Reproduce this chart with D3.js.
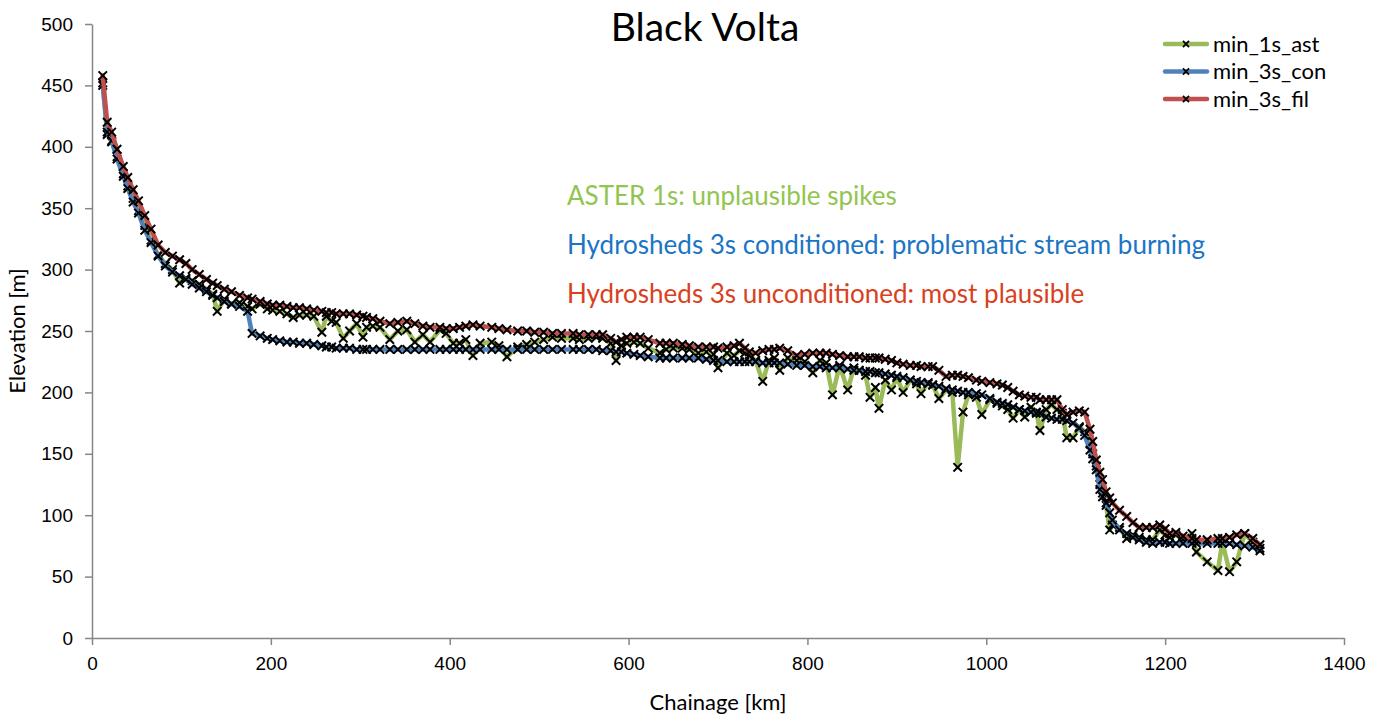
<!DOCTYPE html>
<html>
<head>
<meta charset="utf-8">
<title>Black Volta</title>
<style>
body { margin: 0; background: #fff; }
.axis path, .axis line { stroke: #868686; stroke-width: 1.5; }
.axis text { font-family: "Liberation Sans", Arial, sans-serif; font-size: 19px; fill: #000; }
.lbl { font-family: Lato, "Open Sans", sans-serif; }
</style>
</head>
<body>
<div id="container"></div>
<script src="https://d3js.org/d3.v7.min.js"></script>
<script>
// Chainage (km) shared by the three profiles
const chainage = [12, 17, 22, 28, 35, 40, 46, 52, 59, 66, 74, 82, 90, 98, 105, 112, 120, 128, 135, 140,
  148, 156, 165, 174, 179, 188, 196, 202, 210, 218, 225, 232, 240, 248, 257, 262, 268, 273, 281, 288,
  296, 303, 307, 314, 322, 333, 342, 352, 361, 370, 378, 389, 396, 404, 411, 418, 426, 434, 447, 455,
  464, 476, 486, 495, 505, 515, 525, 538, 545, 555, 564, 571, 580, 586, 592, 598, 606, 613, 622, 635,
  642, 650, 660, 668, 678, 687, 695, 700, 710, 718, 724, 730, 735, 742, 750, 757, 763, 769, 778, 788,
  797, 806, 814, 821, 828, 836, 845, 852, 858, 865, 870, 876, 880, 887, 894, 900, 907, 915, 922, 927,
  935, 940, 947, 955, 962, 968, 974, 980, 989, 995, 1004, 1012, 1018, 1024, 1030, 1037, 1043, 1050, 1056, 1060,
  1067, 1073, 1079, 1085, 1090, 1097, 1104, 1110, 1116, 1119, 1123, 1127, 1130, 1134, 1138, 1141, 1149, 1157, 1164, 1171,
  1179, 1186, 1194, 1200, 1205, 1212, 1220, 1230, 1235, 1247, 1259, 1264, 1272, 1280, 1289, 1298, 1306];

// ASTER 1s
const min_1s_ast = [452, 410, 404, 392, 378, 368, 358, 348, 336, 324, 312, 305, 300, 289, 293, 291, 288, 284, 280, 266,
  276, 272, 273, 270, 268, 272, 268, 267, 266, 264, 261, 263, 263, 262, 249, 262, 258, 257, 244, 250,
  256, 245, 253, 254, 253, 243, 250, 251, 241, 247, 241, 251, 248, 240, 240, 243, 230, 240, 241, 238,
  229, 237, 239, 241, 243, 245, 244, 244, 243, 244, 245, 244, 240, 226, 238, 240, 241, 240, 236, 232,
  235, 236, 236, 235, 232, 233, 231, 220, 232, 230, 234, 232, 230, 226, 209, 226, 228, 218, 228, 226,
  225, 216, 226, 224, 198, 222, 202, 220, 218, 214, 196, 204, 187, 210, 202, 212, 200, 210, 207, 199,
  208, 206, 195, 202, 200, 139, 184, 198, 196, 182, 194, 191, 189, 186, 179, 186, 180, 188, 184, 169,
  186, 190, 186, 183, 163, 163, 172, 168, 158, 150, 140, 125, 118, 108, 88, 92, 90, 81, 84, 82,
  80, 80, 88, 84, 82, 84, 80, 85, 70, 62, 55, 78, 54, 62, 85, 78, 73];

// Hydrosheds 3s conditioned
const min_3s_con = [450, 412, 405, 390, 376, 366, 355, 346, 332, 322, 311, 303, 298, 295, 292, 288, 285, 282, 279, 277,
  274, 272, 270, 266, 248, 246, 244, 243, 242, 241, 241, 240, 240, 239, 238, 237, 237, 236, 236, 236,
  235, 235, 235, 235, 235, 235, 235, 235, 235, 235, 235, 235, 235, 235, 235, 235, 235, 235, 235, 235,
  235, 235, 235, 235, 235, 235, 235, 235, 235, 235, 235, 234, 234, 233, 233, 232, 231, 230, 229, 228,
  228, 228, 228, 228, 228, 227, 226, 226, 225, 225, 225, 225, 225, 225, 224, 224, 224, 224, 223, 222,
  222, 221, 221, 220, 220, 220, 219, 218, 218, 217, 217, 216, 216, 215, 214, 213, 212, 210, 209, 208,
  207, 206, 205, 203, 202, 201, 200, 200, 199, 198, 195, 192, 191, 190, 188, 186, 185, 184, 183, 183,
  180, 179, 178, 178, 177, 175, 171, 165, 153, 146, 137, 121, 115, 110, 102, 96, 88, 85, 82, 80,
  78, 77, 78, 78, 77, 77, 77, 77, 77, 77, 77, 77, 77, 76, 75, 74, 71];

// Hydrosheds 3s unconditioned (filled)
const min_3s_fil = [458, 420, 412, 398, 384, 375, 365, 356, 344, 333, 320, 314, 311, 308, 305, 300, 296, 292, 289, 287,
  284, 282, 279, 277, 276, 274, 272, 271, 271, 270, 269, 269, 268, 267, 266, 265, 265, 264, 264, 264,
  263, 262, 261, 260, 258, 256, 257, 258, 256, 254, 253, 253, 252, 252, 253, 254, 255, 254, 253, 252,
  251, 250, 250, 249, 249, 248, 248, 248, 247, 247, 247, 247, 244, 241, 243, 245, 245, 245, 243, 240,
  240, 240, 239, 238, 237, 237, 237, 236, 237, 238, 240, 236, 233, 232, 234, 235, 235, 236, 234, 230,
  231, 232, 232, 232, 231, 230, 229, 229, 229, 228, 228, 228, 228, 227, 226, 224, 223, 222, 222, 221,
  221, 221, 218, 213, 214, 214, 213, 212, 210, 209, 208, 207, 206, 204, 201, 198, 197, 196, 196, 194,
  194, 194, 194, 186, 182, 184, 185, 184, 170, 160, 145, 135, 129, 119, 114, 110, 104, 99, 94, 90,
  90, 90, 92, 89, 85, 86, 83, 81, 80, 80, 81, 81, 82, 84, 85, 81, 76];

const seriesNames = ["min_1s_ast", "min_3s_con", "min_3s_fil"];
const seriesColors = ["#9bbb59", "#4f81bd", "#c0504d"];
const seriesValues = [min_1s_ast, min_3s_con, min_3s_fil];

const xTicks = [0, 200, 400, 600, 800, 1000, 1200, 1400];
const yTicks = [0, 50, 100, 150, 200, 250, 300, 350, 400, 450, 500];

const notes = [
  {text: "ASTER 1s: unplausible spikes", color: "#92c550"},
  {text: "Hydrosheds 3s conditioned: problematic stream burning", color: "#1b75c4"},
  {text: "Hydrosheds 3s unconditioned: most plausible", color: "#d9411e"}
];

const width = 1386, height = 720;
const marginLeft = 92, marginRight = 42, marginTop = 24, marginBottom = 82;

const x = d3.scaleLinear().domain([0, 1400]).range([marginLeft, width - marginRight]);
const y = d3.scaleLinear().domain([0, 500]).range([height - marginBottom, marginTop]);

const svg = d3.create("svg").attr("width", width).attr("height", height);

// axes
svg.append("g")
  .attr("class", "axis")
  .attr("transform", `translate(0,${y(0)})`)
  .call(d3.axisBottom(x).tickValues(xTicks).tickFormat(d3.format("d"))
    .tickSize(7).tickSizeOuter(0).tickPadding(8))
  .call(g => g.selectAll("text").attr("dy", "0.9em"));

svg.append("g")
  .attr("class", "axis")
  .attr("transform", `translate(${x(0)},0)`)
  .call(d3.axisLeft(y).tickValues(yTicks).tickSize(7).tickSizeOuter(0).tickPadding(12));

// titles
svg.append("text").attr("class", "lbl")
  .attr("x", 705).attr("y", 41).attr("text-anchor", "middle")
  .attr("font-size", 39).text("Black Volta");

svg.append("text").attr("class", "lbl")
  .attr("x", (x(0) + x(1400)) / 2).attr("y", 710).attr("text-anchor", "middle")
  .attr("font-size", 22).text("Chainage [km]");

svg.append("text").attr("class", "lbl")
  .attr("transform", `translate(25,${(y(0) + y(500)) / 2}) rotate(-90)`)
  .attr("text-anchor", "middle")
  .attr("font-size", 22).text("Elevation [m]");

// lines and markers
const line = d3.line()
  .x((d, i) => x(chainage[i]))
  .y(d => y(d));

const xMark = d3.symbol(d3.symbolX, 48);
const xMarkSmall = d3.symbol(d3.symbolX, 26);

seriesValues.forEach((vals, k) => {
  svg.append("path")
    .attr("fill", "none")
    .attr("stroke", seriesColors[k])
    .attr("stroke-width", 4.5)
    .attr("stroke-linejoin", "round")
    .attr("stroke-linecap", "round")
    .attr("d", line(vals));
  svg.append("g")
    .selectAll("path")
    .data(vals)
    .join("path")
    .attr("transform", (d, i) => `translate(${x(chainage[i])},${y(d)})`)
    .attr("d", xMark)
    .attr("fill", "none")
    .attr("stroke", "#000")
    .attr("stroke-width", 2);
});

// annotations
svg.append("g").selectAll("text")
  .data(notes)
  .join("text")
  .attr("class", "lbl")
  .attr("x", 567)
  .attr("y", (d, i) => 205 + i * 49)
  .attr("font-size", 26)
  .attr("fill", d => d.color)
  .text(d => d.text);

// legend
const legend = svg.append("g").attr("transform", "translate(1163,44)");
seriesNames.forEach((name, k) => {
  const row = legend.append("g").attr("transform", `translate(0,${k * 27.5})`);
  row.append("line")
    .attr("x1", 2).attr("x2", 44)
    .attr("stroke", seriesColors[k]).attr("stroke-width", 4.5)
    .attr("stroke-linecap", "round");
  row.append("path")
    .attr("transform", "translate(23,0)")
    .attr("d", xMarkSmall).attr("fill", "none")
    .attr("stroke", "#000").attr("stroke-width", 1.8);
  row.append("text").attr("class", "lbl")
    .attr("x", 50).attr("y", 7.5)
    .attr("font-size", 22).text(name);
});

container.append(svg.node());
</script>
</body>
</html>
